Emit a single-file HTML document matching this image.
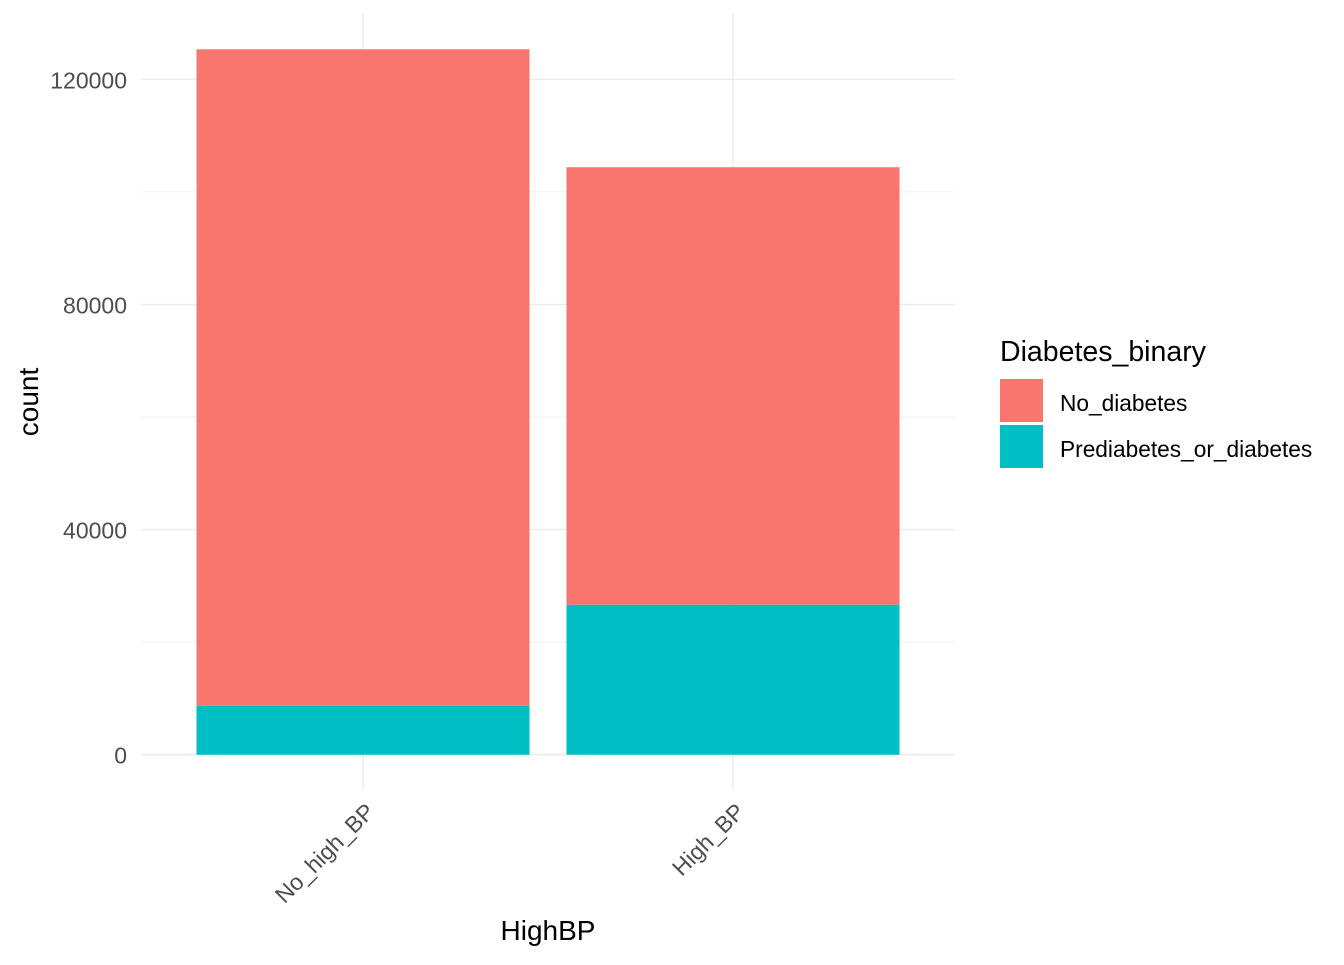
<!DOCTYPE html>
<html><head><meta charset="utf-8"><style>
body{margin:0;background:#fff;font-family:"Liberation Sans",Arial,sans-serif}
</style></head><body>
<svg id="chart" width="1344" height="960" xmlns="http://www.w3.org/2000/svg">
<g id="grid"></g>
<g id="bars"></g>
<g id="axes"></g>
<text transform="translate(38,402) rotate(-90)" text-anchor="middle" font-size="28" fill="#000">count</text>
<text x="548" y="940" text-anchor="middle" font-size="28" fill="#000">HighBP</text>
<g>
<text x="1000" y="361" font-size="28.5" fill="#000">Diabetes_binary</text>
<rect x="1000" y="379" width="43" height="43" fill="#F8766D"/>
<text x="1060" y="411" font-size="22.7" fill="#000">No_diabetes</text>
<rect x="1000" y="425" width="43" height="43" fill="#00BFC4"/>
<text x="1060" y="457" font-size="22.7" fill="#000">Prediabetes_or_diabetes</text>
</g>
</svg>
<script>
const categories=["No_high_BP","High_BP"];
const noDiabetes=[116630,77750];
const prediabetes=[8700,26630];
const yTicks=[0,40000,80000,120000];
const yMinor=[20000,60000,100000];
const NS="http://www.w3.org/2000/svg";
const px0=141,px1=955,pyTop=14,pyBot=790;
const totals=categories.map((c,i)=>noDiabetes[i]+prediabetes[i]);
const ymax=Math.max(...totals)*1.05, ymin=-ymax/21;
function y(v){return pyBot-(v-ymin)/(ymax-ymin)*(pyBot-pyTop);}
const step=(px1-px0)/(categories.length+0.2);
function x(i){return px0+step*(i+0.6);}
function el(t,a,p){const e=document.createElementNS(NS,t);for(const k in a)e.setAttribute(k,a[k]);p.appendChild(e);return e;}
const grid=document.getElementById('grid'),bars=document.getElementById('bars'),axes=document.getElementById('axes');
yMinor.forEach(v=>{const l=el('line',{x1:px0,x2:px1,y1:y(v),y2:y(v),stroke:'#ebebeb','stroke-width':0.7},grid);

});
yTicks.forEach(v=>{const l=el('line',{x1:px0,x2:px1,y1:y(v),y2:y(v),stroke:'#ebebeb','stroke-width':1.4},grid);


const t=el('text',{x:127,y:y(v)+9,'text-anchor':'end','font-size':23,fill:'#4d4d4d'},axes);t.textContent=v;

});
categories.forEach((c,i)=>{const l=el('line',{x1:x(i),x2:x(i),y1:pyTop,y2:pyBot,stroke:'#ebebeb','stroke-width':1.4},grid);


const w=step*0.9,bx=x(i)-w/2;
const r1=el('rect',{x:bx,y:y(totals[i]),width:w,height:y(prediabetes[i])-y(totals[i]),fill:'#F8766D'},bars);


const r2=el('rect',{x:bx,y:y(prediabetes[i]),width:w,height:y(0)-y(prediabetes[i]),fill:'#00BFC4'},bars);


const t=el('text',{transform:`translate(${x(i)+13},${813}) rotate(-45)`,'text-anchor':'end','font-size':23,fill:'#4d4d4d'},axes);t.textContent=c;

});
</script>
</body></html>
